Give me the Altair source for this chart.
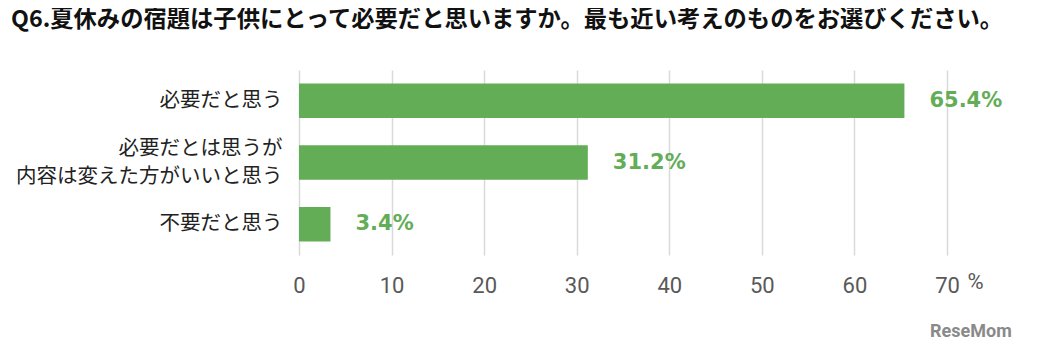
import altair as alt
import pandas as pd

categories = ["必要だと思う", "必要だとは思うが|内容は変えた方がいいと思う", "不要だと思う"]
values = [65.4, 31.2, 3.4]
x_ticks = [0, 10, 20, 30, 40, 50, 60, 70]

title_text = "Q6.夏休みの宿題は子供にとって必要だと思いますか。最も近い考えのものをお選びください。"

df = pd.DataFrame({"cat": categories, "val": values})
df["lbl"] = [f"{v:.1f}%" for v in values]

GREEN = "#63ad57"
JP = "Noto Sans CJK JP"

base = alt.Chart(df)

y_enc = alt.Y(
    "cat:N",
    sort=categories,
    title=None,
    scale=alt.Scale(paddingInner=0.44, paddingOuter=0.22),
    axis=alt.Axis(
        labelExpr="split(datum.label, '|')",
        labelFont=JP,
        labelFontSize=20.5,
        labelColor="#222222",
        labelPadding=17,
        labelLineHeight=28,
        labelOffset={"condition": {"test": "indexof(datum.label, '|') >= 0", "value": -14}, "value": 0},
        ticks=False,
        domain=False,
        labelLimit=400,
    ),
)

bars = base.mark_bar(color=GREEN).encode(
    x=alt.X(
        "val:Q",
        scale=alt.Scale(domain=[0, 70]),
        title="%",
        axis=alt.Axis(
            values=x_ticks,
            grid=True,
            gridColor="#d9d9d9",
            gridWidth=1.5,
            ticks=False,
            domain=False,
            labelFlush=False,
            labelFont="Liberation Sans Narrow, Roboto, sans-serif",
            labelFontSize=22,
            labelColor="#595959",
            labelPadding=20,
            titleFont="Liberation Sans Narrow, Roboto, sans-serif",
            titleFontSize=22,
            titleFontWeight="normal",
            titleColor="#595959",
            titleX=676,
            titleY=26,
            titleBaseline="middle",
            titleAlign="center",
        ),
    ),
    y=y_enc,
)

texts = base.mark_text(
    align="left", baseline="middle", dx=25, font="Verdana, DejaVu Sans, sans-serif",
    fontSize=21, fontWeight="bold", color=GREEN,
).encode(
    x="val:Q",
    y=alt.Y("cat:N", sort=categories),
    text="lbl:N",
)

logo = alt.Chart(pd.DataFrame({"t": ["ReseMom"]})).mark_text(
    align="left", baseline="middle", font="Roboto", fontSize=18,
    fontWeight="bold", color="#8a8a8a",
).encode(text="t:N", x=alt.value(631), y=alt.value(262))

chart = (
    alt.layer(bars, texts, logo)
    .properties(
        width=648,
        height=185,
        title=alt.TitleParams(
            title_text,
            anchor="start",
            frame="group",
            dx=-288,
            offset=38,
            font=JP,
            fontSize=23.3,
            fontWeight="bold",
            color="#111111",
        ),
        autosize=alt.AutoSizeParams(type="none"),
        padding={"left": 291, "top": 62, "right": 80, "bottom": 85},
    )
    .configure_view(stroke=None)
)

chart.save("out.html", embed_options={"renderer": "svg", "actions": False})
